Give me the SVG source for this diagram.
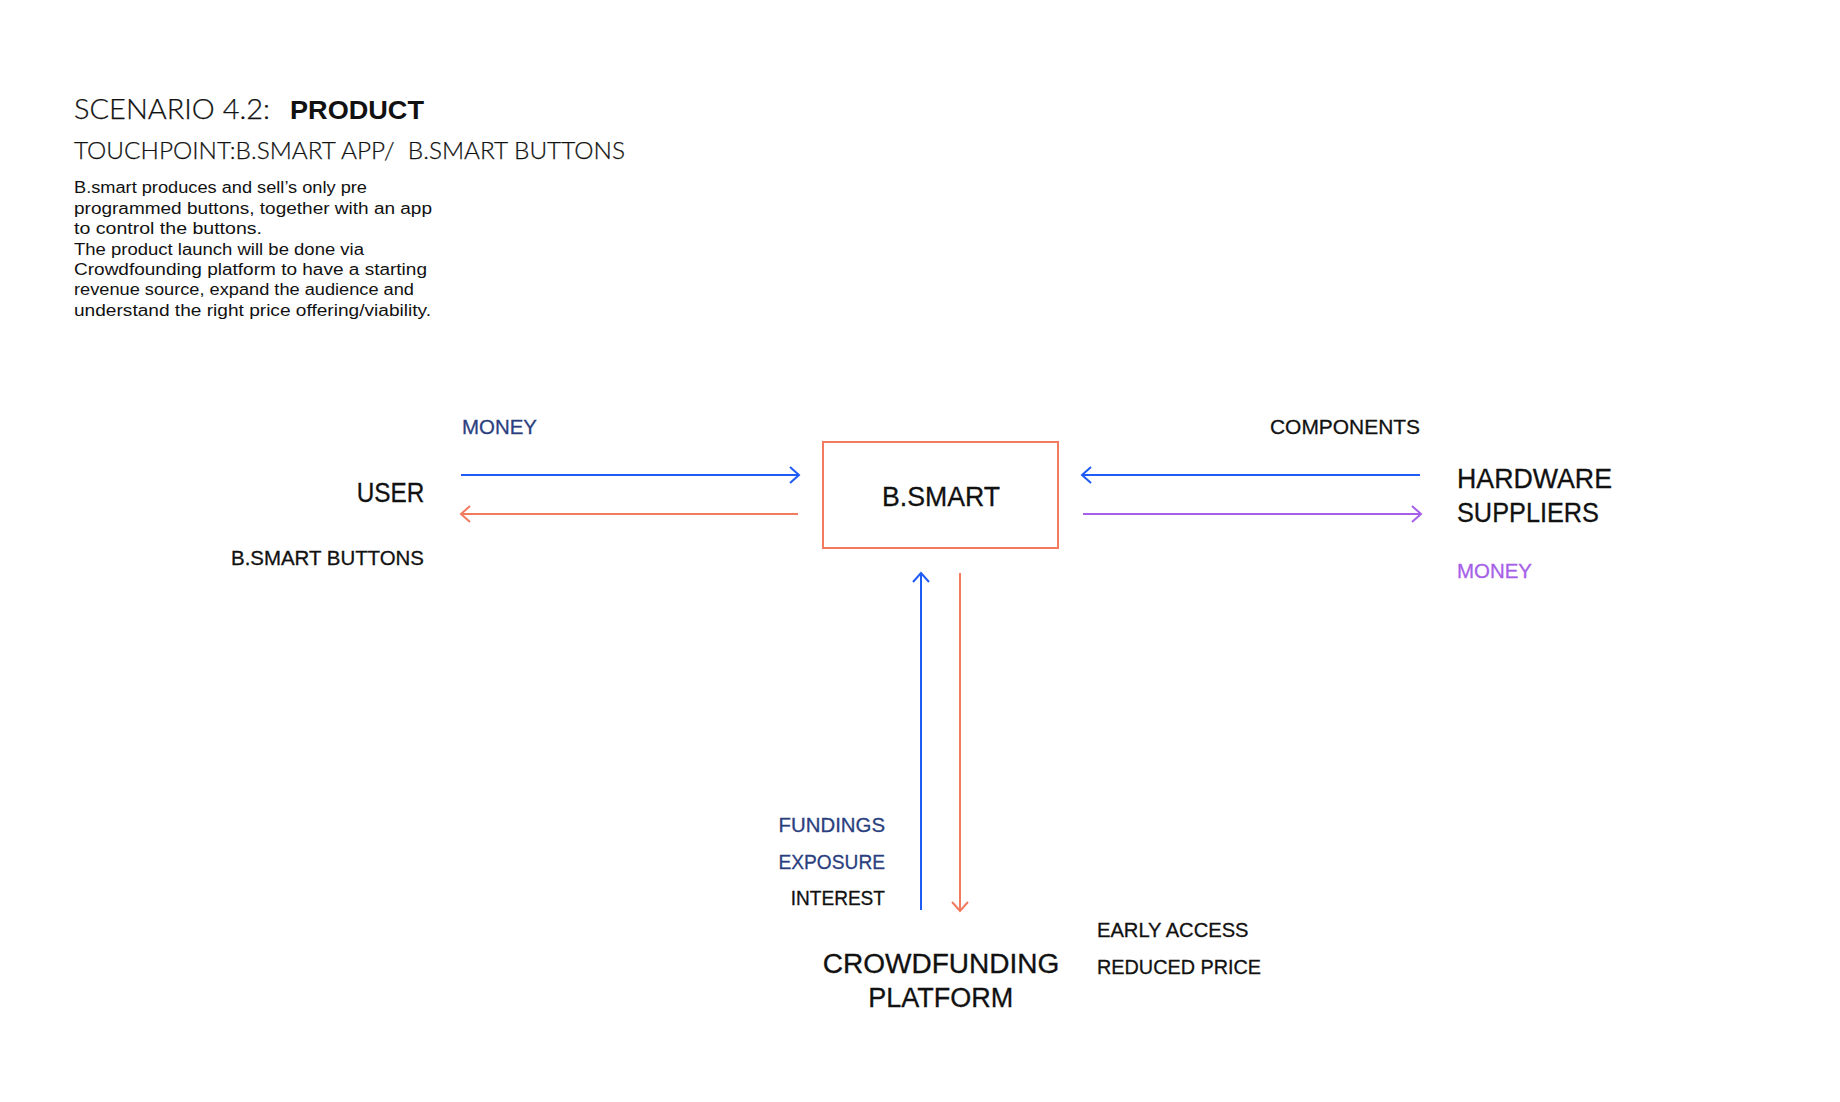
<svg xmlns="http://www.w3.org/2000/svg" width="1840" height="1102" viewBox="0 0 1840 1102">
  <style>
    text { font-family: "Liberation Sans", Arial, sans-serif; fill: #111111; }
    .light { font-family: "Lato", "Liberation Sans", sans-serif; font-weight: 300; fill: #111111; stroke: #111111; stroke-width: 0.25; }
    .title { font-size: 26.5px; }
    .sub { font-size: 23.5px; }
    .bold { font-weight: bold; font-size: 26.5px; }
    .body { font-size: 15.8px; fill: #111111; }
    .lbl { font-size: 21px; stroke-width: 0.3; }
    .node { font-size: 27px; stroke: #111111; stroke-width: 0.3; }
    .blk { stroke: #111111; }
    .dblue { fill: #2B3F7F; stroke: #2B3F7F; }
    .purple { fill: #A660E8; stroke: #A660E8; }
    .end { text-anchor: end; }
    .mid { text-anchor: middle; }
    .conn { fill: none; stroke-width: 2; }
    .blue { stroke: #1F5BF5; }
    .orange { stroke: #F27A5E; }
    .violet { stroke: #A660E8; }
    .box { fill: #ffffff; stroke: #F27A5E; stroke-width: 2; }
  </style>
  <defs>
    <marker id="hb" markerUnits="userSpaceOnUse" viewBox="-12 -10 14 20" refX="0" refY="0" markerWidth="14" markerHeight="20" orient="auto">
      <path d="M-9,-8 L0,0 L-9,8" fill="none" stroke="#1F5BF5" stroke-width="2"/>
    </marker>
    <marker id="ho" markerUnits="userSpaceOnUse" viewBox="-12 -10 14 20" refX="0" refY="0" markerWidth="14" markerHeight="20" orient="auto">
      <path d="M-9,-8 L0,0 L-9,8" fill="none" stroke="#F27A5E" stroke-width="2"/>
    </marker>
    <marker id="hp" markerUnits="userSpaceOnUse" viewBox="-12 -10 14 20" refX="0" refY="0" markerWidth="14" markerHeight="20" orient="auto">
      <path d="M-9,-8 L0,0 L-9,8" fill="none" stroke="#A660E8" stroke-width="2"/>
    </marker>
  </defs>
  <rect x="0" y="0" width="1840" height="1102" fill="#ffffff"/>

  <g id="header">
    <text class="light title" x="74" y="118.5" textLength="196" lengthAdjust="spacingAndGlyphs">SCENARIO 4.2:</text>
    <text class="bold" x="290" y="118.5" textLength="134" lengthAdjust="spacingAndGlyphs">PRODUCT</text>
    <text class="light sub" x="74" y="158.5" textLength="551" lengthAdjust="spacingAndGlyphs" xml:space="preserve">TOUCHPOINT:B.SMART APP/  B.SMART BUTTONS</text>
    <text class="body" x="74" y="193.3" textLength="293" lengthAdjust="spacingAndGlyphs">B.smart produces and sell’s only pre</text>
    <text class="body" x="74" y="213.7" textLength="358" lengthAdjust="spacingAndGlyphs">programmed buttons, together with an app</text>
    <text class="body" x="74" y="234.1" textLength="188" lengthAdjust="spacingAndGlyphs">to control the buttons.</text>
    <text class="body" x="74" y="254.5" textLength="290" lengthAdjust="spacingAndGlyphs">The product launch will be done via</text>
    <text class="body" x="74" y="274.9" textLength="353" lengthAdjust="spacingAndGlyphs">Crowdfounding platform to have a starting</text>
    <text class="body" x="74" y="295.3" textLength="340" lengthAdjust="spacingAndGlyphs">revenue source, expand the audience and</text>
    <text class="body" x="74" y="315.7" textLength="357" lengthAdjust="spacingAndGlyphs">understand the right price offering/viability.</text>
  </g>

  <g id="connectors">
    <line class="conn blue" x1="461" y1="475" x2="799" y2="475" marker-end="url(#hb)"/>
    <line class="conn orange" x1="798" y1="514" x2="461" y2="514" marker-end="url(#ho)"/>
    <line class="conn blue" x1="1420" y1="475" x2="1082" y2="475" marker-end="url(#hb)"/>
    <line class="conn violet" x1="1083" y1="514" x2="1421" y2="514" marker-end="url(#hp)"/>
    <line class="conn blue" x1="921" y1="910" x2="921" y2="573" marker-end="url(#hb)"/>
    <line class="conn orange" x1="960" y1="573" x2="960" y2="911" marker-end="url(#ho)"/>
    <text class="lbl dblue" x="462" y="434" textLength="75" lengthAdjust="spacingAndGlyphs">MONEY</text>
    <text class="lbl blk" x="231" y="565" textLength="193" lengthAdjust="spacingAndGlyphs">B.SMART BUTTONS</text>
    <text class="lbl blk" x="1270" y="434" textLength="150" lengthAdjust="spacingAndGlyphs">COMPONENTS</text>
    <text class="lbl purple" x="1457" y="578" textLength="75" lengthAdjust="spacingAndGlyphs">MONEY</text>
    <text class="lbl dblue" x="778.5" y="832" textLength="106.5" lengthAdjust="spacingAndGlyphs">FUNDINGS</text>
    <text class="lbl dblue" x="778.5" y="868.5" textLength="106.5" lengthAdjust="spacingAndGlyphs">EXPOSURE</text>
    <text class="lbl blk" x="790.7" y="905" textLength="94.3" lengthAdjust="spacingAndGlyphs">INTEREST</text>
    <text class="lbl blk" x="1097" y="937" textLength="151.5" lengthAdjust="spacingAndGlyphs">EARLY ACCESS</text>
    <text class="lbl blk" x="1097" y="973.5" textLength="164" lengthAdjust="spacingAndGlyphs">REDUCED PRICE</text>
  </g>

  <g id="node-user">
    <text class="node" x="356.7" y="502.3" textLength="67.6" lengthAdjust="spacingAndGlyphs">USER</text>
  </g>

  <g id="node-bsmart">
    <rect class="box" x="823" y="442" width="235" height="106"/>
    <text class="node" x="882" y="506" textLength="118" lengthAdjust="spacingAndGlyphs">B.SMART</text>
  </g>

  <g id="node-hardware">
    <text class="node" x="1457" y="487.5" textLength="155" lengthAdjust="spacingAndGlyphs">HARDWARE</text>
    <text class="node" x="1457" y="521.5" textLength="142" lengthAdjust="spacingAndGlyphs">SUPPLIERS</text>
  </g>

  <g id="node-crowdfunding">
    <text class="node" x="822.7" y="973.3" textLength="236.6" lengthAdjust="spacingAndGlyphs">CROWDFUNDING</text>
    <text class="node" x="868.3" y="1006.7" textLength="145" lengthAdjust="spacingAndGlyphs">PLATFORM</text>
  </g>
</svg>
